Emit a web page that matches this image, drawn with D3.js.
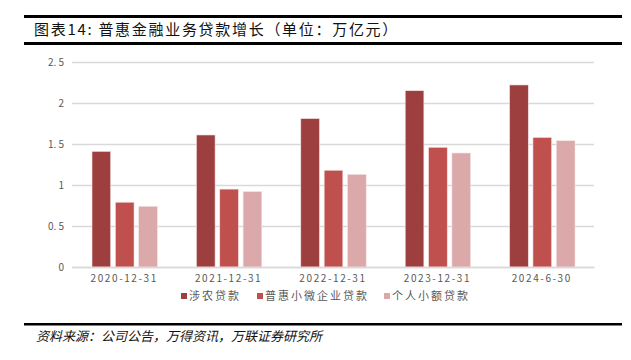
<!DOCTYPE html>
<html>
<head>
<meta charset="utf-8">
<script src="https://cdn.jsdelivr.net/npm/d3@7"></script>
<style>
  body { margin: 0; background: #fff; }
  svg text { font-family: "Noto Sans CJK SC", "DejaVu Sans", sans-serif; white-space: pre; }
</style>
</head>
<body>
<div id="chart"></div>
<script>
var categories = ["2020-12-31", "2021-12-31", "2022-12-31", "2023-12-31", "2024-6-30"];
var seriesNames = ["涉农贷款", "普惠小微企业贷款", "个人小额贷款"];
var agriLoans = [1.41, 1.61, 1.81, 2.15, 2.22];
var smallBizLoans = [0.79, 0.95, 1.18, 1.46, 1.58];
var microLoans = [0.74, 0.92, 1.13, 1.39, 1.54];
var yTicks = [0, 0.5, 1, 1.5, 2, 2.5];
var yTickLabels = ["0", "0. 5", "1", "1. 5", "2", "2. 5"];

var colors = ["#9e3f3f", "#c0504d", "#dba9a9"];
var series = [agriLoans, smallBizLoans, microLoans];

var W = 631, H = 360;
var margin = {top: 62, right: 37, bottom: 93, left: 72};
var width = W - margin.left - margin.right;
var height = H - margin.top - margin.bottom;

var svg = d3.select("#chart").append("svg")
  .attr("width", W).attr("height", H);

// title rules and text
svg.append("rect").attr("x", 24).attr("y", 15).attr("width", 598).attr("height", 3).attr("fill", "#000");
svg.append("rect").attr("x", 24).attr("y", 42).attr("width", 598).attr("height", 3).attr("fill", "#000");
svg.append("text").attr("x", 34).attr("y", 35)
  .attr("font-size", 15).attr("fill", "#111").attr("letter-spacing", 1.7)
  .text("图表14: 普惠金融业务贷款增长（单位：万亿元）");

// footer
svg.append("rect").attr("x", 24).attr("y", 323).attr("width", 598).attr("height", 2.5).attr("fill", "#000");
svg.append("text").attr("x", 36).attr("y", 341)
  .attr("font-size", 13).attr("font-style", "italic").attr("fill", "#111")
  .text("资料来源：公司公告，万得资讯，万联证券研究所");

var g = svg.append("g").attr("transform", "translate(" + margin.left + "," + margin.top + ")");

var x0 = d3.scaleBand().domain(categories).range([0, width]).paddingInner(0).paddingOuter(0);
var x1 = d3.scaleBand().domain(d3.range(series.length)).range([20, x0.bandwidth() - 19]).paddingInner(0.2);
var y = d3.scaleLinear().domain([0, 2.5]).range([height, 0]);

// gridlines
g.append("g")
  .call(d3.axisLeft(y).tickValues(yTicks).tickSize(-width).tickFormat(function (d, i) { return yTickLabels[i]; }))
  .call(function (s) {
    s.select(".domain").remove();
    s.selectAll(".tick line").attr("stroke", "#d9d9d9").attr("stroke-width", 1.5);
    s.selectAll(".tick text").attr("x", -8).attr("fill", "#595959").attr("font-size", 10);
  });

// bars
var groups = g.selectAll(".grp").data(categories).enter().append("g")
  .attr("transform", function (d) { return "translate(" + x0(d) + ",0)"; });

groups.selectAll("rect")
  .data(function (d, ci) { return series.map(function (s, si) { return {si: si, v: s[ci]}; }); })
  .enter().append("rect")
  .attr("x", function (d) { return x1(d.si); })
  .attr("width", x1.bandwidth())
  .attr("y", function (d) { return y(d.v); })
  .attr("height", function (d) { return height - y(d.v); })
  .attr("fill", function (d) { return colors[d.si]; })
  .attr("stroke", "#f3e3e3").attr("stroke-width", 0.6);

// x axis
g.append("g").attr("transform", "translate(0," + height + ")")
  .call(d3.axisBottom(x0).tickSize(0).tickPadding(8))
  .call(function (s) {
    s.select(".domain").attr("stroke", "#d9d9d9").attr("stroke-width", 1.5);
    s.selectAll(".tick text").attr("fill", "#595959").attr("font-size", 10).attr("letter-spacing", 1.6);
  });

// legend
var legendX = [181, 257, 384];
var legend = svg.append("g").attr("transform", "translate(0,299)");
var items = legend.selectAll("g").data(seriesNames).enter().append("g")
  .attr("transform", function (d, i) { return "translate(" + legendX[i] + ",0)"; });
items.append("rect").attr("x", 0).attr("y", -6).attr("width", 6).attr("height", 6)
  .attr("fill", function (d, i) { return colors[i]; });
items.append("text").attr("x", 8).attr("y", 0).attr("dy", "0.05em")
  .attr("font-size", 11).attr("fill", "#595959").attr("letter-spacing", 2)
  .text(function (d) { return d; });
</script>
</body>
</html>
